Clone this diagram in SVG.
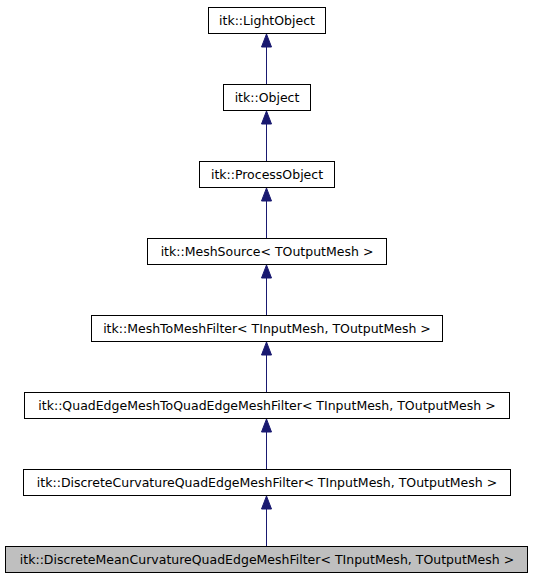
<svg xmlns="http://www.w3.org/2000/svg" width="533" height="581" viewBox="0 0 533 581">
<style>
.box{fill:#ffffff;stroke:#000000;stroke-width:1}
.cur{fill:#bfbfbf;stroke:#000000;stroke-width:1}
.lbl{font-family:"DejaVu Sans",sans-serif;font-size:12.5px;fill:#000000;text-anchor:middle}
.edge{stroke:#191970;stroke-width:1;fill:none}
.head{fill:#191970;stroke:#191970;stroke-width:1}
</style>
<rect width="533" height="581" fill="#ffffff"/>
<g id="connectors">
<line class="edge" x1="266.5" y1="84" x2="266.5" y2="47"/>
<polygon class="head" points="266.5,34 261.5,47 271.5,47"/>
<line class="edge" x1="266.5" y1="161" x2="266.5" y2="124"/>
<polygon class="head" points="266.5,111 261.5,124 271.5,124"/>
<line class="edge" x1="266.5" y1="238" x2="266.5" y2="201"/>
<polygon class="head" points="266.5,188 261.5,201 271.5,201"/>
<line class="edge" x1="266.5" y1="315" x2="266.5" y2="278"/>
<polygon class="head" points="266.5,265 261.5,278 271.5,278"/>
<line class="edge" x1="266.5" y1="392" x2="266.5" y2="355"/>
<polygon class="head" points="266.5,342 261.5,355 271.5,355"/>
<line class="edge" x1="266.5" y1="469" x2="266.5" y2="432"/>
<polygon class="head" points="266.5,419 261.5,432 271.5,432"/>
<line class="edge" x1="266.5" y1="546" x2="266.5" y2="509"/>
<polygon class="head" points="266.5,496 261.5,509 271.5,509"/>
</g>
<g id="node-lightobject">
<rect class="box" x="208.5" y="7.5" width="117" height="26"/>
<text class="lbl" x="267" y="25">itk::LightObject</text>
</g>
<g id="node-object">
<rect class="box" x="223.5" y="84.5" width="87" height="26"/>
<text class="lbl" x="267" y="102">itk::Object</text>
</g>
<g id="node-processobject">
<rect class="box" x="199.5" y="161.5" width="135" height="26"/>
<text class="lbl" x="267" y="179">itk::ProcessObject</text>
</g>
<g id="node-meshsource">
<rect class="box" x="147.5" y="238.5" width="239" height="26"/>
<text class="lbl" x="267" y="256">itk::MeshSource&lt; TOutputMesh &gt;</text>
</g>
<g id="node-meshtomeshfilter">
<rect class="box" x="91.5" y="315.5" width="351" height="26"/>
<text class="lbl" x="267" y="333">itk::MeshToMeshFilter&lt; TInputMesh, TOutputMesh &gt;</text>
</g>
<g id="node-quadedgemeshtoquadedgemeshfilter">
<rect class="box" x="24.5" y="392.5" width="485" height="26"/>
<text class="lbl" x="267" y="410">itk::QuadEdgeMeshToQuadEdgeMeshFilter&lt; TInputMesh, TOutputMesh &gt;</text>
</g>
<g id="node-discretecurvature">
<rect class="box" x="23.5" y="469.5" width="487" height="26"/>
<text class="lbl" x="267" y="487">itk::DiscreteCurvatureQuadEdgeMeshFilter&lt; TInputMesh, TOutputMesh &gt;</text>
</g>
<g id="node-discretemeancurvature">
<rect class="cur" x="5.5" y="546.5" width="522" height="26"/>
<text class="lbl" x="267" y="564">itk::DiscreteMeanCurvatureQuadEdgeMeshFilter&lt; TInputMesh, TOutputMesh &gt;</text>
</g>
</svg>
